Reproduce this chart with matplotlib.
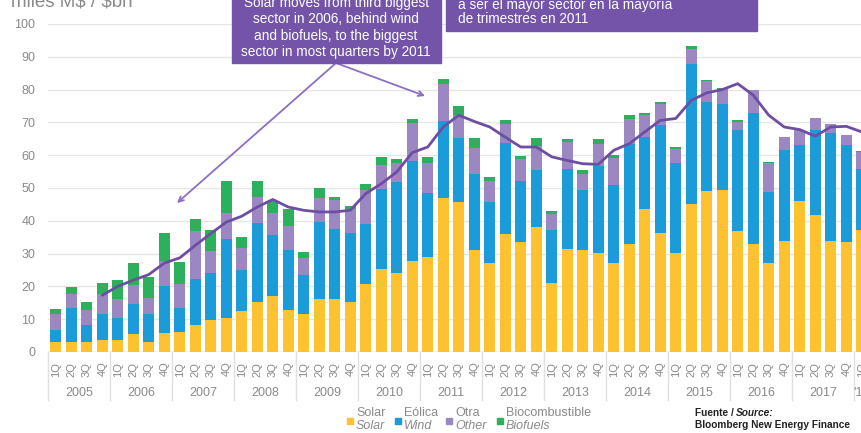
import matplotlib
matplotlib.use("Agg")
import matplotlib.pyplot as plt
from matplotlib.patches import Rectangle
from matplotlib.lines import Line2D
import numpy as np

plt.rcParams['font.family'] = ['Liberation Sans', 'DejaVu Sans']

# ---------------- data ----------------
years = ['2005', '2006', '2007', '2008', '2009', '2010', '2011', '2012',
         '2013', '2014', '2015', '2016', '2017', "'18"]
quarters = ['1Q', '2Q', '3Q', '4Q']

solar = [3.0, 3.0, 3.0, 3.6, 3.6, 5.6, 3.0, 5.8, 6.1, 8.1, 9.7, 10.5,
         12.4, 15.1, 17.1, 12.7, 11.5, 16.1, 16.1, 15.2, 20.6, 25.4, 24.2, 27.7,
         29.0, 46.8, 45.7, 31.0, 27.0, 36.1, 33.5, 38.1, 21.0, 31.5, 31.0, 30.3,
         27.0, 33.0, 43.5, 36.4, 30.2, 45.2, 49.1, 49.3, 36.9, 33.0, 27.0, 33.8,
         45.9, 41.7, 33.8, 33.4, 37.1]
wind = [3.6, 10.4, 5.3, 7.9, 6.9, 8.9, 8.5, 14.3, 7.3, 14.3, 14.3, 24.1,
        12.5, 24.2, 18.7, 18.3, 12.1, 23.4, 21.5, 21.2, 18.5, 24.4, 27.6, 30.4,
        19.6, 23.5, 19.4, 23.2, 18.7, 27.7, 18.6, 17.5, 16.1, 24.2, 18.5, 26.3,
        23.9, 30.5, 22.1, 32.9, 27.4, 42.7, 27.1, 26.4, 30.7, 39.9, 21.8, 27.7,
        17.3, 26.1, 33.0, 29.6, 18.8]
other = [5.1, 4.2, 4.6, 6.1, 5.6, 5.8, 5.1, 7.6, 7.2, 14.5, 6.8, 7.9,
         6.9, 8.0, 6.7, 7.3, 5.1, 7.5, 8.7, 7.1, 10.2, 7.1, 5.9, 11.7,
         9.0, 11.3, 7.1, 8.1, 6.4, 5.8, 6.7, 7.2, 5.1, 8.3, 4.9, 6.9,
         8.2, 7.6, 6.6, 6.4, 4.4, 4.6, 6.3, 4.4, 2.6, 6.9, 8.9, 4.0,
         4.6, 3.4, 2.6, 3.3, 5.1]
biofuels = [1.3, 2.2, 2.2, 3.4, 5.7, 6.8, 6.3, 8.7, 6.8, 3.8, 6.3, 9.5,
            3.3, 4.7, 3.5, 5.2, 1.8, 3.1, 1.0, 1.0, 1.8, 2.4, 1.1, 1.3,
            1.7, 1.5, 2.7, 2.8, 1.3, 1.2, 1.0, 2.3, 0.8, 0.8, 1.2, 1.3,
            1.1, 1.1, 0.8, 0.5, 0.5, 0.8, 0.3, 0.5, 0.4, 0.2, 0.1, 0.1,
            0.0, 0.0, 0.0, 0.0, 0.4]
# trailing average line (starts at 2005 4Q)
avg_start = 3
avg_line = [17.3, 20.0, 21.9, 23.6, 27.1, 28.7, 32.5, 36.1, 39.6, 41.4,
            44.2, 46.5, 44.2, 43.2, 42.7, 42.7, 43.2, 48.3, 51.3, 54.9,
            60.8, 62.5, 68.6, 72.2, 70.3, 68.6, 65.5, 62.5, 62.5, 59.5,
            58.4, 57.4, 57.2, 61.5, 63.5, 67.1, 70.6, 71.2, 76.7, 79.0,
            80.0, 81.8, 78.3, 72.2, 68.6, 67.8, 65.8, 68.6, 68.8, 67.1]

c_solar = '#FDC22F'
c_wind = '#1B9BD8'
c_other = '#9B88C2'
c_bio = '#2DB05B'
c_line = '#6D4EA2'
c_box = '#7354A8'
grey = '#8a8a8a'

# ---------------- figure ----------------
W_PX, H_PX = 861, 433
fig = plt.figure(figsize=(W_PX / 100, H_PX / 100), dpi=100)

def fx(x):
    return x / W_PX

def fy(y):
    return 1 - y / H_PX

step = 15.5
ax_left, ax_bottom_px, ax_top_px = 48, 352, 24
n_units = 54
ax = fig.add_axes([fx(ax_left), fy(ax_bottom_px), n_units * step / W_PX,
                   (ax_bottom_px - ax_top_px) / H_PX])
ax.set_xlim(-0.5, n_units - 0.5)
ax.set_ylim(0, 100)

n = len(solar)
x = np.arange(n)
s = np.array(solar); w = np.array(wind); o = np.array(other); b = np.array(biofuels)
bw = 0.68
ax.bar(x, s, bw, color=c_solar, zorder=3)
ax.bar(x, w, bw, bottom=s, color=c_wind, zorder=3)
ax.bar(x, o, bw, bottom=s + w, color=c_other, zorder=3)
ax.bar(x, b, bw, bottom=s + w + o, color=c_bio, zorder=3)

xa = np.arange(avg_start, avg_start + len(avg_line))
ax.plot(xa, avg_line, color=c_line, lw=2.0, zorder=4, solid_capstyle='round')

# axes styling
for sp in ax.spines.values():
    sp.set_visible(False)
ax.set_yticks(np.arange(0, 101, 10))
ax.tick_params(axis='y', length=0, pad=9, labelsize=9, labelcolor=grey)
ax.yaxis.grid(True, color='#e6e6e6', lw=1.0, zorder=0)
ax.axhline(0, color='#d0d0d0', lw=1.0, zorder=2)
ax.set_xticks(x)
ax.set_xticklabels([quarters[i % 4] for i in range(n)], rotation=90,
                   fontsize=8, color=grey)
ax.tick_params(axis='x', length=0, pad=7)

trans = ax.get_xaxis_transform()
ax_h = ax_bottom_px - ax_top_px
for k, yr in enumerate(years):
    if k < len(years) - 1:
        cx = 4 * k + 1.5
    else:
        cx = 4 * k
    ax.text(cx, -(393 - ax_bottom_px) / ax_h, yr, transform=trans,
            ha='center', va='center', fontsize=9, color=grey)
    xs = 4 * k - 0.5
    ax.plot([xs, xs], [0, -(400 - ax_bottom_px) / ax_h], transform=trans,
            color='#e0e0e0', lw=1.0, clip_on=False)

# y axis label (top cut)
fig.text(fx(11), fy(6), r'miles M\$ / \$bn', fontsize=13.5, color=grey,
         ha='left', va='baseline')

# annotation boxes
fig.add_artist(Rectangle((fx(232), fy(63)), fx(441 - 232), fy(-30) - fy(63),
                         transform=fig.transFigure, color=c_box, zorder=5))
box1 = ['Solar moves from third biggest', 'sector in 2006, behind wind',
        'and biofuels, to the biggest', 'sector in most quarters by 2011']
for i, t in enumerate(box1):
    fig.text(fx(336), fy(3 + 16.3 * i), t, ha='center', va='center',
             fontsize=9.8, color='white', zorder=6)

fig.add_artist(Rectangle((fx(446), fy(31)), fx(757 - 446), fy(-30) - fy(31),
                         transform=fig.transFigure, color=c_box, zorder=5))
box2 = ['a ser el mayor sector en la mayoría', 'de trimestres en 2011']
for i, t in enumerate(box2):
    fig.text(fx(458), fy(5.5 + 13.7 * i), t, ha='left', va='center',
             fontsize=9.8, color='white', zorder=6)

# arrows
for tx, ty in [(177, 203), (425, 96)]:
    ax.annotate('', xy=(fx(tx), fy(ty)), xycoords='figure fraction',
                xytext=(fx(336), fy(63)), textcoords='figure fraction',
                arrowprops=dict(arrowstyle='->', color='#8B6FC2', lw=1.3,
                                mutation_scale=9, shrinkA=0, shrinkB=0),
                zorder=6, annotation_clip=False)

# legend
leg = [(c_solar, 350, 'Solar', 'Solar'), (c_wind, 398, 'Eólica', 'Wind'),
       (c_other, 449, 'Otra', 'Other'), (c_bio, 500, 'Biocombustible', 'Biofuels')]
for col, lx, t1, t2 in leg:
    fig.add_artist(Line2D([fx(lx)], [fy(421)], marker='s', markersize=4.5,
                          color=col, transform=fig.transFigure, lw=0))
    fig.text(fx(lx + 6), fy(413), t1, fontsize=9, color=grey, ha='left', va='center')
    fig.text(fx(lx + 6), fy(426), t2, fontsize=9, color=grey, ha='left',
             va='center', style='italic')

# source
renderer = fig.canvas.get_renderer()
t_f = fig.text(fx(695), fy(413), 'Fuente /', fontsize=7.3, fontweight='bold',
               color='#222222', ha='left', va='center')
bb = t_f.get_window_extent(renderer=renderer)
fig.text(bb.x1 / W_PX + 2.5 / W_PX, fy(413), 'Source:', fontsize=7.3,
         fontweight='bold', style='italic', color='#222222', ha='left', va='center')
fig.text(fx(695), fy(425), 'Bloomberg New Energy Finance', fontsize=7.3,
         fontweight='bold', color='#222222', ha='left', va='center')

fig.savefig('out.png', dpi=100)
